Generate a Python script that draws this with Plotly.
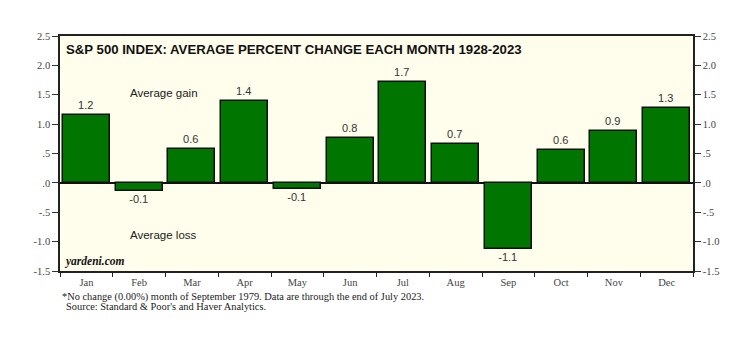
import plotly.graph_objects as go

months = ["Jan", "Feb", "Mar", "Apr", "May", "Jun", "Jul", "Aug", "Sep", "Oct", "Nov", "Dec"]
avg_change = [1.16, -0.14, 0.57, 1.40, -0.11, 0.76, 1.71, 0.66, -1.13, 0.56, 0.88, 1.28]
value_labels = ["1.2", "-0.1", "0.6", "1.4", "-0.1", "0.8", "1.7", "0.7", "-1.1", "0.6", "0.9", "1.3"]
y_tickvals = [2.5, 2.0, 1.5, 1.0, 0.5, 0.0, -0.5, -1.0, -1.5]
y_ticktext = ["2.5", "2.0", "1.5", "1.0", ".5", ".0", "-.5", "-1.0", "-1.5"]

xpos = list(range(len(months)))

fig = go.Figure()
fig.add_trace(go.Bar(
    x=xpos, y=avg_change, width=0.89,
    marker=dict(color="#007500", line=dict(color="#111111", width=1.5)),
    text=value_labels, textposition="outside", cliponaxis=False,
    textfont=dict(family="Arial, Liberation Sans", size=11, color="#333333"),
    showlegend=False,
))
# invisible trace for right axis
fig.add_trace(go.Scatter(x=[0], y=[0], yaxis="y2", mode="markers",
                         marker=dict(opacity=0), showlegend=False, hoverinfo="skip"))

tickfont = dict(family="Liberation Serif, Times New Roman", size=10.5, color="#444444")
yrange = [-1.5, 2.5]
fig.update_layout(
    width=752, height=340,
    margin=dict(l=60, r=59, t=36, b=69),
    paper_bgcolor="white", plot_bgcolor="#FFFDEB",
    bargap=0,
    xaxis=dict(
        range=[-0.5, 11.5], tickvals=xpos, ticktext=months, ticks="",
        tickfont=tickfont, showgrid=False, zeroline=False,
        showline=True, linecolor="#222222", linewidth=2, mirror=True,
        minor=dict(tick0=-0.5, dtick=1, ticks="outside", ticklen=4, tickcolor="#222222", showgrid=False),
    ),
    yaxis=dict(
        range=yrange, tickvals=y_tickvals, ticktext=y_ticktext,
        ticks="outside", ticklen=6, tickcolor="#333333", tickfont=tickfont,
        showgrid=False, zeroline=True, zerolinecolor="#111111", zerolinewidth=1.5,
        showline=True, linecolor="#222222", linewidth=1.5,
    ),
    yaxis2=dict(
        range=yrange, tickvals=y_tickvals, ticktext=y_ticktext, overlaying="y", side="right",
        ticks="outside", ticklen=6, tickcolor="#333333", tickfont=tickfont,
        showgrid=False, zeroline=False, showline=True, linecolor="#222222", linewidth=1.5,
    ),
    annotations=[
        dict(text="<b>S&P 500 INDEX: AVERAGE PERCENT CHANGE EACH MONTH 1928-2023</b>",
             xref="paper", yref="paper", x=0.006, y=0.985, xanchor="left", yanchor="top",
             showarrow=False, font=dict(family="Arial, Liberation Sans", size=13.2, color="#111111")),
        dict(text="Average gain", xref="x", yref="y", x=1.47, y=1.53, xanchor="center",
             showarrow=False, font=dict(family="Arial, Liberation Sans", size=11.5, color="#222222")),
        dict(text="Average loss", xref="x", yref="y", x=1.47, y=-0.88, xanchor="center",
             showarrow=False, font=dict(family="Arial, Liberation Sans", size=11.5, color="#222222")),
        dict(text="<b><i>yardeni.com</i></b>", xref="paper", yref="paper", x=0.003, y=0.005,
             xanchor="left", yanchor="bottom", showarrow=False,
             font=dict(family="Liberation Serif, Times New Roman", size=11.5, color="#111111")),
        dict(text="*No change (0.00%) month of September 1979. Data are through the end of July 2023.",
             xref="paper", yref="paper", x=0.0, y=-0.11, xanchor="left", yanchor="middle",
             showarrow=False, font=dict(family="Liberation Serif, Times New Roman", size=10.4, color="#222222")),
        dict(text="Source: Standard & Poor's and Haver Analytics.",
             xref="paper", yref="paper", x=0.006, y=-0.153, xanchor="left", yanchor="middle",
             showarrow=False, font=dict(family="Liberation Serif, Times New Roman", size=10.4, color="#222222")),
    ],
)

fig.write_html("out.html")
